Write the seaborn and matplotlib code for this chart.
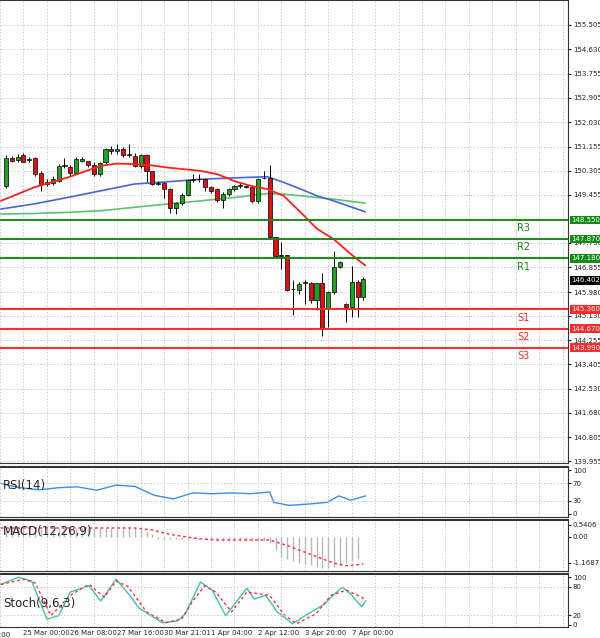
import numpy as np
import pandas as pd
import matplotlib
matplotlib.use("Agg")
import matplotlib.pyplot as plt
import matplotlib.transforms as mtrans
import seaborn as sns

# ---- candle data (one per bar) ----
opens = [149.77, 150.77, 150.68, 150.85, 150.70, 150.77, 150.24, 149.83, 149.88, 149.95,
         150.48, 150.45, 150.24, 150.66, 150.65, 150.50, 150.18, 150.60, 151.07, 151.00,
         151.09, 150.88, 150.83, 150.48, 150.85, 150.30, 149.84, 149.88, 149.65, 148.96,
         149.17, 149.43, 149.98, 150.00, 150.00, 149.71, 149.65, 149.27, 149.47, 149.65,
         149.77, 149.76, 149.71, 149.24, 150.03, 150.05, 147.93, 147.30, 147.30, 146.10,
         146.04, 146.30, 146.30, 145.68, 146.30, 145.39, 145.98, 146.87, 145.57, 145.45,
         146.33, 145.80]
closes = [150.77, 150.65, 150.80, 150.63, 150.74, 150.18, 149.83, 149.92, 150.00, 150.48,
          150.50, 150.24, 150.74, 150.74, 150.50, 150.18, 150.57, 151.07, 151.00, 151.07,
          150.85, 150.90, 150.48, 150.85, 150.30, 149.83, 149.88, 149.65, 148.96, 149.15,
          149.43, 149.98, 150.00, 150.02, 149.71, 149.60, 149.27, 149.47, 149.65, 149.77,
          149.80, 149.74, 149.24, 150.00, 150.05, 147.93, 147.28, 147.28, 146.04, 146.08,
          146.27, 146.30, 145.68, 146.30, 144.70, 145.98, 146.87, 147.04, 145.45, 146.33,
          145.80, 146.45]
highs = [150.85, 150.82, 150.90, 150.95, 150.80, 150.80, 150.30, 150.00, 150.10, 150.55,
         150.75, 150.50, 150.80, 150.80, 150.60, 150.60, 150.60, 151.10, 151.20, 151.25,
         151.15, 151.25, 150.95, 150.90, 150.90, 150.30, 149.95, 149.90, 149.70, 149.20,
         149.50, 150.00, 150.20, 150.20, 150.00, 149.75, 149.70, 149.55, 149.70, 149.80,
         149.85, 149.80, 149.75, 150.05, 150.30, 150.50, 147.95, 147.78, 147.30, 146.40,
         146.35, 146.40, 146.35, 146.30, 146.65, 146.00, 147.45, 147.10, 145.60, 146.90,
         146.40, 146.50]
lows = [149.70, 150.60, 150.60, 150.60, 150.60, 150.10, 149.60, 149.75, 149.80, 149.90,
        150.40, 150.10, 150.20, 150.60, 150.45, 150.10, 150.10, 150.55, 150.90, 150.90,
        150.80, 150.80, 150.45, 150.40, 149.90, 149.80, 149.80, 149.35, 148.80, 148.75,
        149.10, 149.40, 149.90, 149.90, 149.60, 149.50, 149.20, 148.98, 149.40, 149.60,
        149.70, 149.70, 149.15, 149.15, 150.00, 147.90, 147.20, 146.80, 146.00, 145.15,
        145.90, 145.55, 145.60, 145.35, 144.40, 144.75, 145.90, 146.85, 144.90, 145.10,
        145.10, 145.70]

# ---- moving averages (sampled along the bar index) ----
ma_fast_x = [-0.85, 4.8, 10.5, 16.2, 19.0, 21.9, 24.7, 27.5, 33.2, 36.1, 38.9, 41.7, 44.6,
             47.4, 50.3, 53.1, 55.9, 58.8, 61.3]
ma_fast_y = [149.23, 149.71, 150.06, 150.48, 150.56, 150.54, 150.50, 150.42, 150.30, 150.18,
             149.94, 149.77, 149.65, 149.41, 148.82, 148.23, 147.87, 147.34, 146.93]
ma_mid_x = [-0.85, 4.8, 10.5, 16.2, 21.9, 27.5, 33.2, 38.9, 44.6, 47.4, 50.3, 53.1, 55.9, 61.3]
ma_mid_y = [148.94, 149.12, 149.35, 149.59, 149.83, 149.91, 150.00, 150.05, 150.09, 149.89,
            149.65, 149.41, 149.23, 148.84]
ma_slow_x = [-0.85, 4.8, 10.5, 16.2, 21.9, 27.5, 33.2, 38.9, 44.6, 47.4, 50.3, 55.9, 61.3]
ma_slow_y = [148.76, 148.78, 148.82, 148.88, 149.00, 149.12, 149.23, 149.35, 149.49, 149.47,
             149.41, 149.29, 149.15]

# ---- pivot levels ----
res_levels = [148.550, 147.870, 147.180]
res_names = ["R3", "R2", "R1"]
sup_levels = [145.360, 144.670, 143.990]
sup_names = ["S1", "S2", "S3"]
last_price = 146.402

price_ticks = [155.505, 154.630, 153.755, 152.905, 152.030, 151.155, 150.305, 149.455,
               147.730, 146.855, 145.980, 145.130, 144.255, 143.405, 142.530, 141.680,
               140.805, 139.955]

# ---- indicators ----
rsi_x = [-0.9, 2.4, 5.7, 9.0, 12.2, 15.5, 18.8, 22.0, 25.4, 28.6, 31.9, 35.2, 38.5, 41.7,
         45.0, 45.7, 48.3, 51.6, 54.8, 56.8, 58.8, 61.4]
rsi_y = [70, 60, 55, 60, 62, 54, 66, 63, 42, 34, 48, 46, 48, 46, 50, 26, 19, 22, 26, 41, 31, 41]

macd_hist = [0.40] * 23 + [0.30, 0.20, 0.10] + [-0.12] * 10 + [-0.18] * 9 + \
            [-0.30, -0.60, -0.90, -1.00, -1.10, -1.20, -1.25, -1.30, -1.35, -1.40, -1.40,
             -1.35, -1.30, -1.20, -1.10, -1.00]
macd_sig_x = [-0.9, 22, 25, 28, 33, 36, 45, 48, 52, 56, 58, 61]
macd_sig_y = [0.39, 0.39, 0.30, 0.10, -0.10, -0.15, -0.15, -0.40, -0.80, -1.20, -1.31, -1.24]

stoch_x = [-0.85, 2.1, 4.4, 7.0, 9.0, 11.0, 14.2, 16.2, 18.8, 21.4, 22.7, 26.7, 29.3, 30.6,
           33.2, 35.2, 37.5, 41.1, 42.4, 44.3, 46.3, 48.9, 51.6, 54.2, 56.1, 57.4, 58.8,
           60.7, 61.4]
stoch_k = [85, 100, 92, 12, 19, 69, 82, 50, 96, 58, 35, 4, 8, 23, 90, 73, 19, 77, 54, 62,
           27, 2, 23, 42, 65, 79, 65, 38, 50]
stoch_sx = [-0.85, 3.1, 5.0, 7.7, 11.0, 14.2, 16.8, 18.8, 20.8, 24.0, 27.3, 30.0, 31.9, 33.9,
            35.8, 38.5, 41.1, 45.0, 47.6, 49.6, 52.9, 55.5, 58.1, 60.7, 61.4]
stoch_d = [85, 96, 88, 19, 62, 85, 58, 92, 81, 27, 4, 12, 50, 82, 69, 27, 69, 62, 19, 2, 23,
           62, 73, 58, 50]

time_labels = ["25 Mar 00:00", "26 Mar 08:00", "27 Mar 16:00", "30 Mar 21:01",
               "1 Apr 04:00", "2 Apr 12:00", "3 Apr 20:00", "7 Apr 00:00"]
time_pos = [3, 11, 19, 27, 35, 43, 51, 59]

GREEN = "#22a022"
RED = "#e01010"
LVL_GREEN = "#168a16"
LVL_RED = "#ff2a2a"
XLIM = (-0.85, 95.9)

sns.set_style("white")
plt.rcParams["font.family"] = "DejaVu Sans"

fig = plt.figure(figsize=(6, 6.38), dpi=100)
W = 568 / 600
ax = fig.add_axes([0, 1 - 463 / 638, W, 463 / 638])
ax_rsi = fig.add_axes([0, 1 - 517 / 638, W, 50 / 638])
ax_macd = fig.add_axes([0, 1 - 571 / 638, W, 51 / 638])
ax_st = fig.add_axes([0, 1 - 627 / 638, W, 53 / 638])


def style_panel(a):
    a.set_xlim(*XLIM)
    a.yaxis.tick_right()
    a.tick_params(axis="y", labelsize=5, length=2, pad=1.5, colors="#222222")
    a.tick_params(axis="x", length=0, labelbottom=False)
    a.spines["left"].set_visible(False)
    for s in ["top", "bottom", "right"]:
        a.spines[s].set_color("#333333")
    a.spines["top"].set_linewidth(1.5)
    a.set_xticks(np.arange(-1, 97, 4), minor=True)
    a.grid(True, which="minor", axis="x", color="#c8c8c8", ls=(0, (2, 2)), lw=0.6)


# ---- main price panel ----
df = pd.DataFrame({"o": opens, "c": closes, "h": highs, "l": lows})
df["x"] = np.arange(len(df))
up = df["c"] >= df["o"]
ax.vlines(df["x"], df["l"], df["h"], color="black", lw=0.7, zorder=3)
ax.bar(df["x"], (df["c"] - df["o"]).abs().clip(lower=0.02), bottom=df[["o", "c"]].min(axis=1),
       width=0.7, color=np.where(up, GREEN, RED), edgecolor="black", lw=0.5, zorder=4)

sns.lineplot(x=ma_slow_x, y=ma_slow_y, ax=ax, color="#5cc27a", lw=1.2, zorder=2)
sns.lineplot(x=ma_mid_x, y=ma_mid_y, ax=ax, color="#4466dd", lw=1.2, zorder=2)
sns.lineplot(x=ma_fast_x, y=ma_fast_y, ax=ax, color="#ff2020", lw=1.3, zorder=5)

style_panel(ax)
ax.set_ylim(139.955 - 2 / 28.17, 155.505 + 25 / 28.17)
ax.set_yticks(price_ticks)
ax.set_yticklabels([f"{t:.3f}" for t in price_ticks])
ax.grid(True, which="major", axis="y", color="#c8c8c8", ls=(0, (2, 2)), lw=0.6)

trans = mtrans.blended_transform_factory(ax.transAxes, ax.transData)
box_x = 1.006
for lvl, name in zip(res_levels, res_names):
    ax.axhline(lvl, color=LVL_GREEN, lw=1.4, zorder=6)
    ax.text(0.91, lvl - 0.3, name, transform=trans, fontsize=7, color=LVL_GREEN, va="center")
    ax.text(box_x, lvl, f"{lvl:.3f}", transform=trans, fontsize=5, color="white", va="center",
            bbox=dict(boxstyle="square,pad=0.2", fc=LVL_GREEN, ec="none"), clip_on=False, zorder=10)
for lvl, name in zip(sup_levels, sup_names):
    ax.axhline(lvl, color=LVL_RED, lw=1.4, zorder=6)
    ax.text(0.91, lvl - 0.3, name, transform=trans, fontsize=7, color=LVL_RED, va="center")
    ax.text(box_x, lvl, f"{lvl:.3f}", transform=trans, fontsize=5, color="white", va="center",
            bbox=dict(boxstyle="square,pad=0.2", fc=LVL_RED, ec="none"), clip_on=False, zorder=10)
ax.text(box_x, last_price, f"{last_price:.3f}", transform=trans, fontsize=5, color="white",
        va="center", bbox=dict(boxstyle="square,pad=0.2", fc="black", ec="none"), clip_on=False,
        zorder=10)

# ---- RSI ----
sns.lineplot(x=rsi_x, y=rsi_y, ax=ax_rsi, color="#3d8ee8", lw=1)
style_panel(ax_rsi)
ax_rsi.set_ylim(-8, 108)
ax_rsi.set_yticks([0, 30, 70, 100])
for lv in [30, 70]:
    ax_rsi.axhline(lv, color="#c8c8c8", ls=(0, (2, 2)), lw=0.6)
ax_rsi.text(0.005, 0.62, "RSI(14)", transform=ax_rsi.transAxes, fontsize=8.5, va="center")

# ---- MACD ----
ax_macd.vlines(np.arange(len(macd_hist)), 0, macd_hist, color="#b8b8b8", lw=1)
sns.lineplot(x=macd_sig_x, y=macd_sig_y, ax=ax_macd, color="#ff3030", lw=1, ls=(0, (2, 2)))
style_panel(ax_macd)
ax_macd.set_ylim(-1.55, 0.75)
ax_macd.set_yticks([-1.1687, 0.0, 0.5406])
ax_macd.set_yticklabels(["-1.1687", "0.00", "0.5406"])
ax_macd.text(0.005, 0.78, "MACD(12,26,9)", transform=ax_macd.transAxes, fontsize=8.5, va="center")

# ---- Stochastic ----
sns.lineplot(x=stoch_x, y=stoch_k, ax=ax_st, color="#40c0b0", lw=1)
sns.lineplot(x=stoch_sx, y=stoch_d, ax=ax_st, color="#ff3030", lw=1, ls=(0, (2, 2)))
style_panel(ax_st)
ax_st.set_ylim(-5, 107)
ax_st.set_yticks([0, 20, 80, 100])
for lv in [20, 80]:
    ax_st.axhline(lv, color="#c8c8c8", ls=(0, (2, 2)), lw=0.6)
ax_st.text(0.005, 0.45, "Stoch(9,6,3)", transform=ax_st.transAxes, fontsize=8.5, va="center")
ax_st.set_xticks(time_pos)
ax_st.set_xticklabels(time_labels, fontsize=5, ha="left")
ax_st.tick_params(axis="x", labelbottom=True, pad=2)
ax_st.text(-0.85, -0.1, "20:00", transform=mtrans.blended_transform_factory(ax_st.transData, ax_st.transAxes),
           fontsize=5, ha="center", va="top")

fig.savefig("out.png", dpi=100, facecolor="white")
